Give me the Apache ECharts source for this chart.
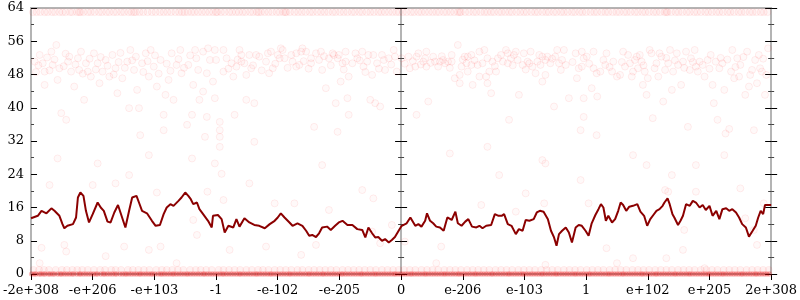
<!DOCTYPE html>
<html>
<head>
<meta charset="utf-8">
<script src="https://cdn.jsdelivr.net/npm/echarts@6/dist/echarts.min.js"></script>
<style>html,body{margin:0;padding:0;background:#fff}#c{width:800px;height:300px}</style>
</head>
<body>
<div id="c"></div>
<script>
// x positions are in tick-interval units: -6 .. 6 (tick labels below)
const tickLabels = ['-2e+308','-e+206','-e+103','-1','-e-102','-e-205','0','e-206','e-103','1','e+102','e+205','2e+308'];
const yTicks = [0,8,16,24,32,40,48,56,64];

// moving-average line
const lineU = [-6.00,-5.89,-5.83,-5.75,-5.67,-5.62,-5.54,-5.49,-5.46,-5.41,-5.32,-5.27,-5.24,-5.20,-5.15,-5.11,-5.06,-5.00,-4.92,-4.87,-4.82,-4.76,-4.71,-4.65,-4.59,-4.55,-4.47,-4.41,-4.36,-4.29,-4.25,-4.20,-4.12,-4.04,-3.98,-3.91,-3.85,-3.80,-3.74,-3.69,-3.61,-3.56,-3.50,-3.45,-3.41,-3.37,-3.31,-3.27,-3.21,-3.13,-3.07,-3.05,-2.97,-2.91,-2.86,-2.80,-2.72,-2.67,-2.62,-2.54,-2.46,-2.38,-2.30,-2.21,-2.13,-2.05,-2.00,-1.95,-1.89,-1.81,-1.76,-1.68,-1.60,-1.54,-1.49,-1.44,-1.38,-1.33,-1.28,-1.20,-1.14,-1.07,-1.01,-0.95,-0.87,-0.79,-0.71,-0.63,-0.58,-0.53,-0.47,-0.42,-0.37,-0.31,-0.26,-0.20,-0.15,-0.10,-0.04,0.01,0.04,0.09,0.15,0.18,0.23,0.28,0.33,0.39,0.42,0.47,0.52,0.57,0.63,0.69,0.75,0.82,0.88,0.92,0.98,1.04,1.09,1.15,1.22,1.27,1.32,1.38,1.46,1.52,1.58,1.63,1.67,1.73,1.79,1.86,1.91,1.97,2.02,2.08,2.15,2.20,2.25,2.31,2.34,2.38,2.43,2.48,2.52,2.56,2.61,2.67,2.72,2.77,2.83,2.88,2.93,2.99,3.04,3.09,3.15,3.20,3.24,3.28,3.32,3.36,3.42,3.47,3.52,3.56,3.60,3.65,3.70,3.76,3.83,3.88,3.94,3.99,4.04,4.09,4.14,4.19,4.24,4.27,4.32,4.35,4.40,4.43,4.49,4.53,4.57,4.62,4.68,4.73,4.78,4.84,4.89,4.94,5.00,5.05,5.11,5.16,5.21,5.27,5.32,5.37,5.43,5.48,5.53,5.59,5.64,5.70,5.75,5.79,5.83,5.87,5.90,6.00];
const lineV = [13.4,14.0,15.2,14.6,15.8,15.2,14.0,12.0,11.0,11.6,12.0,13.6,18.4,19.6,18.8,15.2,12.4,14.4,17.2,16.0,15.2,12.6,12.4,14.8,16.6,14.8,11.2,15.2,18.4,18.8,17.2,15.2,14.6,12.8,11.6,11.8,14.4,16.0,16.8,16.4,17.6,18.4,19.6,18.8,18.0,16.8,17.2,15.6,14.4,12.8,11.2,14.0,14.2,13.2,10.0,11.6,11.2,13.2,11.4,13.4,12.4,11.8,11.6,11.0,12.0,12.8,13.6,14.6,13.6,12.4,11.6,12.2,11.6,10.4,9.2,9.4,8.9,9.8,11.2,11.4,10.6,11.6,12.4,12.8,11.8,11.8,10.8,10.6,8.8,11.2,9.8,8.8,8.9,8.0,8.4,7.6,8.2,8.9,10.4,11.6,11.4,12.2,13.6,13.8,11.6,12.0,11.4,12.8,14.6,12.8,12.2,11.4,11.2,10.4,13.6,13.0,15.0,12.2,11.6,12.6,13.2,11.4,11.2,11.6,11.0,11.6,11.8,14.4,14.0,14.0,14.4,12.0,11.6,9.6,10.8,10.4,13.0,12.8,13.2,14.8,15.2,15.0,15.4,13.2,10.4,8.8,6.8,9.6,10.4,11.2,10.0,7.6,11.2,11.8,11.6,10.4,9.2,12.2,14.2,15.6,16.8,16.0,12.8,14.0,12.4,13.2,15.2,17.2,16.6,15.2,16.2,16.4,16.8,15.0,14.0,11.6,13.2,14.2,15.2,15.6,16.4,17.2,18.2,17.0,14.4,13.6,11.8,12.8,14.0,16.8,16.4,17.6,17.2,16.0,16.6,15.4,16.4,14.0,15.2,13.2,15.6,15.8,15.2,15.6,14.8,13.6,12.0,11.2,9.0,10.4,11.6,13.6,15.2,14.4,16.6,16.6];

// faint individual points: the cloud around 44-55 and scattered points in between
const cloudPoints = [
[-5.94,51.1],[-5.86,52.7],[-5.92,48.6],[-5.81,50.7],[-5.78,48.7],[-5.78,45.5],[-5.67,53.5],[-5.65,50.3],[-5.59,55.1],[-5.57,46.7],[-5.54,49.5],[-5.51,38.7],[-5.43,37.1],[-5.40,51.1],[-5.38,52.3],[-5.35,48.7],[-5.30,45.1],[-5.24,51.9],[-5.22,49.1],[-5.19,53.5],[-5.14,41.9],[-5.11,50.7],[-5.08,48.7],[-5.03,47.5],[-4.98,53.1],[-4.92,50.7],[-4.89,45.9],[-4.84,48.7],[-4.79,51.5],[-4.73,47.5],[-4.68,52.7],[-4.63,49.5],[-4.60,43.5],[-4.55,53.2],[-4.52,47.1],[-4.44,51.1],[-4.41,39.9],[-4.39,53.9],[-4.33,49.1],[-4.30,52.3],[-4.28,44.3],[-4.25,39.9],[-4.23,33.4],[-4.20,50.7],[-4.14,53.1],[-4.09,47.5],[-4.06,53.9],[-4.01,49.9],[-3.96,45.1],[-3.90,51.5],[-3.85,34.6],[-3.85,38.3],[-3.82,43.1],[-3.77,46.7],[-3.72,53.1],[-3.69,41.9],[-3.64,50.3],[-3.58,53.9],[-3.56,48.3],[-3.47,35.9],[-3.45,50.3],[-3.39,38.3],[-3.37,45.5],[-3.34,53.9],[-3.32,51.9],[-3.29,49.1],[-3.27,41.9],
[-5.88,50.2],[-5.74,52.1],[-5.70,49.0],[-5.62,51.6],[-5.47,50.0],[-5.44,53.0],[-5.28,50.4],[-5.16,48.2],[-5.05,51.8],[-4.95,49.2],[-4.87,52.2],[-4.76,50.1],[-4.66,48.0],[-4.58,51.0],[-4.48,49.6],[-4.36,51.4],[-4.18,48.6],[-4.11,51.2],[-3.99,52.6],[-3.93,48.2],[-3.80,50.6],[-3.74,48.9],[-3.61,51.7],[-3.52,49.6],[-3.42,52.6],
[-3.21,53.5],[-3.13,54.3],[-3.10,51.5],[-3.02,53.9],[-3.00,51.5],[-3.15,48.3],[-3.05,46.3],[-3.02,42.3],[-3.15,37.8],[-2.94,36.6],[-2.94,34.6],[-2.94,33.0],[-2.94,30.6],[-2.88,53.9],[-2.83,51.9],[-2.88,48.7],[-2.75,50.7],[-2.72,47.5],[-2.70,38.3],[-2.67,49.9],[-2.62,53.9],[-2.59,52.7],[-2.59,51.1],[-2.54,50.7],[-2.51,47.9],[-2.51,41.9],[-2.46,52.7],[-2.43,49.5],[-2.38,41.1],[-2.38,31.8],[-2.35,52.7],[-2.30,52.3],[-2.19,51.1],[-2.16,53.1],[-2.14,48.3],[-2.11,53.5],[-2.08,49.5],[-2.00,52.7],[-1.97,51.9],[-1.95,54.3],[-1.92,53.9],[-1.89,51.9],[-1.78,52.7],[-1.76,51.1],[-1.70,49.9],[-1.70,53.1],[-1.65,50.3],[-1.62,53.5],[-1.60,54.3],[-1.54,53.5],[-1.46,51.9],[-1.46,50.7],[-1.41,35.4],[-1.38,53.1],[-1.33,51.5],[-1.30,53.5],[-1.28,49.1],[-1.22,44.7],[-1.17,51.9],[-1.11,53.1],[-1.09,52.7],[-1.06,41.1],[-1.03,34.2],[-1.03,51.9],[-1.01,52.7],[-0.98,46.3],[-0.95,50.7],[-0.90,53.5],[-0.90,51.1],[-0.87,42.3],[-0.85,47.5],[-0.85,38.3],[-0.79,50.7],[-0.74,53.1],[-0.71,51.9],[-0.63,53.5],[-0.61,49.9],[-0.55,51.1],[-0.53,52.7],[-0.50,41.9],[-0.47,47.9],[-0.45,52.7],[-0.42,41.1],[-0.39,50.7],[-0.34,40.3],[-0.31,52.7],[-0.28,51.5],[-0.26,49.1],[-0.20,51.9],[-0.12,53.9],[-0.10,52.3],[-0.07,48.7],[-3.18,33.0],[-3.21,43.9],
[-2.80,49.4],[-2.65,51.6],[-2.40,50.2],[-2.26,49.0],[-2.04,50.6],[-1.84,49.6],[-1.58,51.2],[-1.50,49.4],[-1.25,52.4],[-1.14,50.2],[-0.93,49.2],[-0.67,51.4],[-0.58,48.6],[-0.36,49.4],[-0.16,50.4],
[0.01,51.9],[0.12,52.3],[0.14,49.5],[0.23,49.9],[0.25,52.3],[0.28,53.1],[0.36,51.1],[0.39,51.9],[0.41,53.5],[0.41,49.9],[0.25,38.3],[0.44,41.5],[0.52,52.3],[0.55,51.1],[0.60,49.9],[0.63,51.1],[0.68,51.5],[0.71,50.7],[0.76,51.1],[0.82,52.7],[0.82,51.1],[0.87,47.1],[0.92,55.1],[0.95,47.9],[0.95,45.9],[0.98,49.9],[1.03,52.3],[1.06,50.7],[1.08,48.7],[1.08,52.3],[1.14,52.7],[1.14,50.3],[1.16,45.5],[1.24,50.3],[1.27,53.5],[1.27,47.5],[1.32,50.7],[1.35,53.9],[1.38,47.5],[1.40,45.9],[1.40,51.9],[1.43,48.7],[1.46,43.5],[1.48,51.1],[1.54,48.7],[1.57,51.9],[1.62,52.7],[1.65,51.1],[1.70,53.9],[1.73,53.1],[1.73,50.7],[1.75,37.1],[1.78,51.9],[1.83,52.7],[1.86,53.5],[1.89,51.5],[1.91,43.1],[1.97,50.3],[1.99,53.1],[2.05,51.1],[2.08,50.7],[2.10,53.5],[2.13,49.9],[2.18,48.3],[2.21,51.1],[2.24,52.7],[2.26,50.3],[2.29,52.3],[2.29,46.3],[2.34,51.5],[2.34,47.9],[2.37,52.3],[2.42,50.7],[2.48,40.3],[2.50,52.3],[2.53,53.9],[2.56,50.7],[2.59,49.1],[2.61,51.5],[2.64,53.9],[2.67,50.3],[2.72,42.3],[2.83,53.1],[2.85,47.1],[2.88,49.5],[2.91,34.6],[2.93,53.5],[2.93,49.9],[2.96,51.9],[2.96,42.3],[2.96,37.8],[3.01,52.3],[3.09,44.7],[3.12,53.5],[3.12,49.5],[3.17,48.3],[3.17,33.4],[1.40,30.6],
[0.06,50.6],[0.19,51.2],[0.32,50.4],[0.48,50.8],[0.66,52.4],[0.79,49.6],[1.00,51.6],[1.19,51.4],[1.52,50.0],[1.81,50.2],[2.02,49.2],[2.45,51.8],[2.78,51.0],[3.05,50.6],
[3.23,48.7],[3.28,51.5],[3.33,53.1],[3.31,50.3],[3.18,42.7],[3.42,48.7],[3.44,51.1],[3.50,47.5],[3.55,47.9],[3.60,53.5],[3.63,49.9],[3.68,52.7],[3.71,50.7],[3.74,47.5],[3.76,48.7],[3.79,51.5],[3.82,52.3],[3.84,49.5],[3.87,52.7],[3.90,51.1],[3.92,45.5],[3.95,48.7],[3.98,43.1],[4.00,47.1],[4.03,53.9],[4.06,53.1],[4.08,37.5],[4.11,49.5],[4.14,50.7],[4.17,47.5],[4.19,53.1],[4.22,52.3],[4.25,41.5],[4.28,49.1],[4.33,50.7],[4.36,53.9],[4.39,44.3],[4.41,48.7],[4.47,53.1],[4.49,50.3],[4.54,45.5],[4.57,51.1],[4.62,53.5],[4.65,35.4],[4.68,49.1],[4.70,51.9],[4.76,53.9],[4.78,49.9],[4.81,48.7],[4.84,51.1],[4.89,50.3],[4.92,47.5],[4.97,51.5],[5.02,52.7],[5.05,45.5],[5.07,41.1],[5.10,51.1],[5.13,37.1],[5.16,49.5],[5.21,50.7],[5.24,44.3],[5.26,33.8],[5.32,34.9],[5.35,48.7],[5.37,53.9],[5.40,47.1],[5.45,51.9],[5.48,47.5],[5.50,50.3],[5.58,43.1],[5.61,53.5],[5.64,45.1],[5.66,47.9],[5.69,49.1],[5.72,34.6],[5.74,51.5],[5.77,45.9],[5.80,52.7],[5.82,49.5],[5.85,48.7],[5.90,43.1],[5.92,47.9],[5.95,54.3],
[3.38,49.8],[3.58,51.0],[3.93,50.2],[4.30,52.0],[4.44,51.4],[4.59,49.6],[4.73,51.0],[5.00,49.4],[5.18,52.0],[5.29,51.6],[5.42,49.8],[5.55,52.2],[5.87,51.8],
// sparse low points
[-5.57,27.8],[-5.83,6.3],[-5.46,7.0],[-5.43,5.4],[-5.70,21.4],[-5.00,21.4],[-4.92,26.6],[-4.79,4.3],[-4.63,21.8],[-4.41,23.8],[-4.49,6.6],[-4.09,28.6],[-4.09,5.8],[-3.96,19.6],[-3.90,6.6],[-3.39,27.8],[-3.37,13.0],[-3.31,9.4],[-3.64,2.6],[-5.86,2.6],
[-3.02,26.6],[-2.91,24.1],[-3.14,19.8],[-2.88,17.8],[-2.78,5.8],[-2.46,21.8],[-2.19,6.6],[-2.05,17.0],[-1.73,17.0],[-1.62,4.6],[-1.38,7.0],[-1.28,26.2],[-1.17,15.4],[-0.63,20.2],[-0.45,18.2],[-0.34,7.4],[-0.47,10.2],[-0.15,11.8],
[0.79,29.0],[1.59,23.8],[1.86,15.0],[2.02,19.4],[2.29,27.4],[2.34,26.6],[2.32,17.0],[1.30,16.6],[0.65,6.6],[0.57,2.6],[2.91,22.6],[3.04,17.0],[2.34,2.2],[0.06,7.8],
[3.76,28.6],[3.98,26.2],[4.39,23.8],[4.28,20.2],[4.33,19.8],[4.78,19.8],[4.78,26.2],[5.24,28.6],[5.50,20.6],[5.58,13.4],[5.77,7.0],[5.72,10.6],[4.59,10.6],[4.57,5.8],[4.30,3.8],[3.33,6.2],[3.50,2.6],[5.88,17.0],[3.76,3.8],[4.92,1.4]
];

// row of points at 63
const topRowU = [-5.97,-5.91,-5.85,-5.78,-5.73,-5.66,-5.61,-5.54,-5.49,-5.44,-5.37,-5.33,-5.26,-5.22,-5.2,-5.15,-5.08,-5.03,-4.97,-4.9,-4.85,-4.78,-4.73,-4.66,-4.61,-4.54,-4.49,-4.42,-4.37,-4.33,-4.3,-4.24,-4.18,-4.11,-4.04,-3.98,-3.91,-3.85,-3.79,-3.73,-3.66,-3.6,-3.55,-3.51,-3.46,-3.4,-3.35,-3.29,-3.23,-3.17,-3.11,-3.05,-3.0,-2.98,-2.92,-2.86,-2.79,-2.74,-2.68,-2.63,-2.57,-2.52,-2.45,-2.4,-2.34,-2.31,-2.27,-2.21,-2.15,-2.09,-2.02,-1.97,-1.91,-1.88,-1.86,-1.8,-1.73,-1.67,-1.61,-1.55,-1.48,-1.43,-1.36,-1.3,-1.24,-1.18,-1.11,-1.06,-0.99,-0.93,-0.87,-0.8,-0.75,-0.68,-0.63,-0.56,-0.5,-0.44,-0.37,-0.32,-0.26,-0.2,-0.14,-0.08,-0.03,
0.03,0.09,0.16,0.21,0.28,0.33,0.39,0.45,0.51,0.57,0.62,0.69,0.74,0.8,0.86,0.92,0.95,0.97,1.04,1.1,1.17,1.22,1.29,1.35,1.4,1.46,1.51,1.58,1.63,1.69,1.75,1.8,1.87,1.93,1.99,2.04,2.11,2.17,2.22,2.29,2.35,2.4,2.47,2.52,2.59,2.64,2.7,2.77,2.82,2.89,2.94,3.0,3.07,3.13,3.18,3.25,3.31,3.36,3.43,3.49,3.54,3.61,3.66,3.72,3.79,3.84,3.91,3.96,4.02,4.09,4.14,4.2,4.27,4.3,4.32,4.38,4.45,4.5,4.56,4.63,4.68,4.75,4.8,4.86,4.93,4.98,5.04,5.11,5.16,5.22,5.29,5.34,5.4,5.47,5.52,5.58,5.65,5.7,5.76,5.83,5.88,5.94];

// dense rows at 0 and 1
const zeroRowU = [-5.99,-5.95,-5.92,-5.87,-5.84,-5.8,-5.77,-5.72,-5.69,-5.65,-5.62,-5.57,-5.53,-5.5,-5.46,-5.42,-5.38,-5.34,-5.31,-5.26,-5.22,-5.19,-5.15,-5.11,-5.07,-5.03,-4.99,-4.95,-4.92,-4.87,-4.83,-4.8,-4.76,-4.72,-4.68,-4.64,-4.61,-4.56,-4.52,-4.48,-4.45,-4.41,-4.37,-4.33,-4.29,-4.25,-4.22,-4.18,-4.14,-4.1,-4.06,-4.03,-3.99,-3.94,-3.9,-3.87,-3.83,-3.79,-3.75,-3.71,-3.68,-3.64,-3.6,-3.56,-3.52,-3.48,-3.45,-3.41,-3.37,-3.33,-3.29,-3.25,-3.21,-3.18,-3.14,-3.1,-3.06,-3.02,-2.98,-2.94,-2.9,-2.87,-2.83,-2.79,-2.75,-2.71,-2.67,-2.63,-2.6,-2.56,-2.52,-2.48,-2.44,-2.4,-2.36,-2.33,-2.29,-2.25,-2.21,-2.17,-2.13,-2.1,-2.06,-2.02,-1.98,-1.94,-1.9,-1.86,-1.82,-1.79,-1.75,-1.71,-1.67,-1.63,-1.59,-1.55,-1.51,-1.48,-1.44,-1.4,-1.36,-1.32,-1.28,-1.25,-1.21,-1.17,-1.13,-1.09,-1.05,-1.01,-0.97,-0.94,-0.9,-0.86,-0.82,-0.78,-0.74,-0.7,-0.66,-0.63,-0.59,-0.55,-0.51,-0.47,-0.43,-0.4,-0.36,-0.32,-0.28,-0.24,-0.2,-0.16,-0.12,-0.09,-0.05,-0.01,
0.03,0.07,0.11,0.15,0.18,0.22,0.26,0.3,0.34,0.38,0.41,0.45,0.49,0.53,0.57,0.61,0.65,0.69,0.72,0.76,0.8,0.84,0.88,0.92,0.95,0.99,1.03,1.07,1.11,1.15,1.19,1.22,1.26,1.3,1.34,1.38,1.42,1.46,1.49,1.53,1.57,1.61,1.65,1.69,1.73,1.76,1.8,1.84,1.88,1.92,1.96,1.99,2.03,2.07,2.11,2.15,2.19,2.23,2.27,2.3,2.34,2.38,2.42,2.46,2.5,2.53,2.57,2.61,2.65,2.69,2.73,2.77,2.81,2.84,2.88,2.92,2.96,3.0,3.04,3.07,3.11,3.15,3.19,3.23,3.27,3.31,3.35,3.38,3.42,3.46,3.5,3.54,3.58,3.61,3.65,3.69,3.73,3.77,3.81,3.85,3.89,3.92,3.96,4.0,4.04,4.08,4.12,4.15,4.19,4.23,4.27,4.31,4.35,4.39,4.43,4.46,4.5,4.54,4.58,4.62,4.66,4.69,4.73,4.77,4.81,4.85,4.89,4.93,4.97,5.0,5.04,5.08,5.12,5.16,5.2,5.23,5.27,5.31,5.35,5.39,5.43,5.47,5.51,5.54,5.58,5.62,5.66,5.7,5.74,5.77,5.81,5.85,5.89,5.93,5.97];
const oneRowU = [-5.96,-5.87,-5.79,-5.71,-5.6,-5.5,-5.42,-5.33,-5.25,-5.17,-5.08,-4.98,-4.88,-4.8,-4.7,-4.63,-4.54,-4.43,-4.35,-4.26,-4.17,-4.08,-3.97,-3.88,-3.8,-3.71,-3.62,-3.53,-3.42,-3.33,-3.25,-3.16,-3.07,-2.96,-2.88,-2.79,-2.7,-2.61,-2.51,-2.42,-2.32,-2.24,-2.15,-2.05,-1.96,-1.87,-1.78,-1.68,-1.6,-1.5,-1.41,-1.32,-1.23,-1.14,-1.05,-0.95,-0.86,-0.77,-0.68,-0.59,-0.5,-0.41,-0.31,-0.22,-0.13,-0.04,
0.05,0.14,0.23,0.33,0.42,0.51,0.6,0.7,0.79,0.88,0.97,1.07,1.16,1.25,1.34,1.43,1.53,1.62,1.71,1.8,1.9,1.99,2.08,2.17,2.27,2.36,2.45,2.54,2.64,2.73,2.82,2.91,3.01,3.1,3.19,3.28,3.38,3.47,3.56,3.65,3.75,3.84,3.93,4.02,4.12,4.21,4.3,4.39,4.49,4.58,4.67,4.76,4.86,4.95,5.04,5.13,5.23,5.32,5.41,5.5,5.6,5.69,5.78,5.87,5.96];

const chart = echarts.init(document.getElementById('c'), null, {renderer: 'canvas'});
const lineData = lineU.map((u, i) => [u, lineV[i]]);
const serif = 'DejaVu Serif';
const gray = '#b4b4b4';

const baseY = {
  type: 'value', min: 0, max: 64, interval: 8,
  splitLine: {show: false},
  axisLabel: {show: false},
  minorTick: {show: true, splitNumber: 2, length: 3, lineStyle: {color: '#444', width: 1}},
  axisTick: {show: true, length: 6, lineStyle: {color: '#000', width: 1}},
  axisLine: {show: true, onZero: false, lineStyle: {color: gray, width: 2}}
};
function yAx(extra) {
  const o = JSON.parse(JSON.stringify(baseY));
  for (const k in extra) {
    if (typeof extra[k] === 'object' && o[k]) Object.assign(o[k], extra[k]); else o[k] = extra[k];
  }
  return o;
}

const faint = {color: 'rgba(255,0,0,0.03)', borderColor: 'rgba(255,0,0,0.085)', borderWidth: 1};

chart.setOption({
  animation: false,
  backgroundColor: '#fff',
  grid: {left: 28, right: 26, top: 8, bottom: 26, containLabel: false},
  xAxis: [
    {
      type: 'value', min: -6, max: 6, interval: 1, position: 'bottom',
      splitLine: {show: false},
      axisLine: {show: true, onZero: false, lineStyle: {color: gray, width: 2}},
      axisTick: {show: true, length: 6, lineStyle: {color: '#000', width: 1}},
      axisLabel: {
        margin: 10, color: '#000', fontFamily: serif, fontSize: 13,
        formatter: v => tickLabels[Math.round(v) + 6]
      }
    },
    {
      type: 'value', min: -6, max: 6, interval: 1, position: 'top',
      splitLine: {show: false},
      axisLine: {show: true, onZero: false, lineStyle: {color: gray, width: 2}},
      axisTick: {show: false}, axisLabel: {show: false}
    }
  ],
  yAxis: [
    yAx({position: 'left', axisTick: {inside: true}, minorTick: {},
         axisLabel: {show: true, margin: 7, color: '#000', fontFamily: serif, fontSize: 13,
                     formatter: v => yTicks.indexOf(v) >= 0 ? String(v) : ''}}),
    yAx({position: 'right', axisTick: {inside: true}}),
    yAx({position: 'right', axisTick: {inside: false}, axisLine: {show: false}}),
    yAx({position: 'left', axisLine: {onZero: true}, axisTick: {inside: false}}),
    yAx({position: 'left', axisLine: {onZero: true}, axisTick: {inside: true}})
  ],
  series: [
    {
      type: 'scatter', name: 'ones', symbol: 'circle', symbolSize: 7, silent: true, z: 2,
      data: oneRowU.map(u => [u, 1]),
      itemStyle: {color: 'rgba(255,0,0,0.07)', borderColor: 'rgba(255,0,0,0.06)', borderWidth: 1}
    },
    {
      type: 'scatter', name: 'zeros', symbol: 'circle', symbolSize: 5, silent: true, z: 3,
      data: zeroRowU.map(u => [u, 0]),
      itemStyle: {color: 'rgba(235,0,0,0.3)', borderColor: 'rgba(235,0,0,0.12)', borderWidth: 1}
    },
    {
      type: 'scatter', name: 'top', symbol: 'circle', symbolSize: 7, silent: true, z: 2,
      data: topRowU.map(u => [u, 63]),
      itemStyle: {color: 'rgba(255,0,0,0.045)', borderColor: 'rgba(255,0,0,0.07)', borderWidth: 1}
    },
    {
      type: 'scatter', name: 'cloud', symbol: 'circle', symbolSize: 7, silent: true, z: 2,
      data: cloudPoints,
      itemStyle: faint
    },
    {
      type: 'line', name: 'avg', data: lineData, showSymbol: false, symbol: 'none', z: 5,
      lineStyle: {color: '#8b0000', width: 2}, silent: true
    }
  ]
});
</script>
</body>
</html>
